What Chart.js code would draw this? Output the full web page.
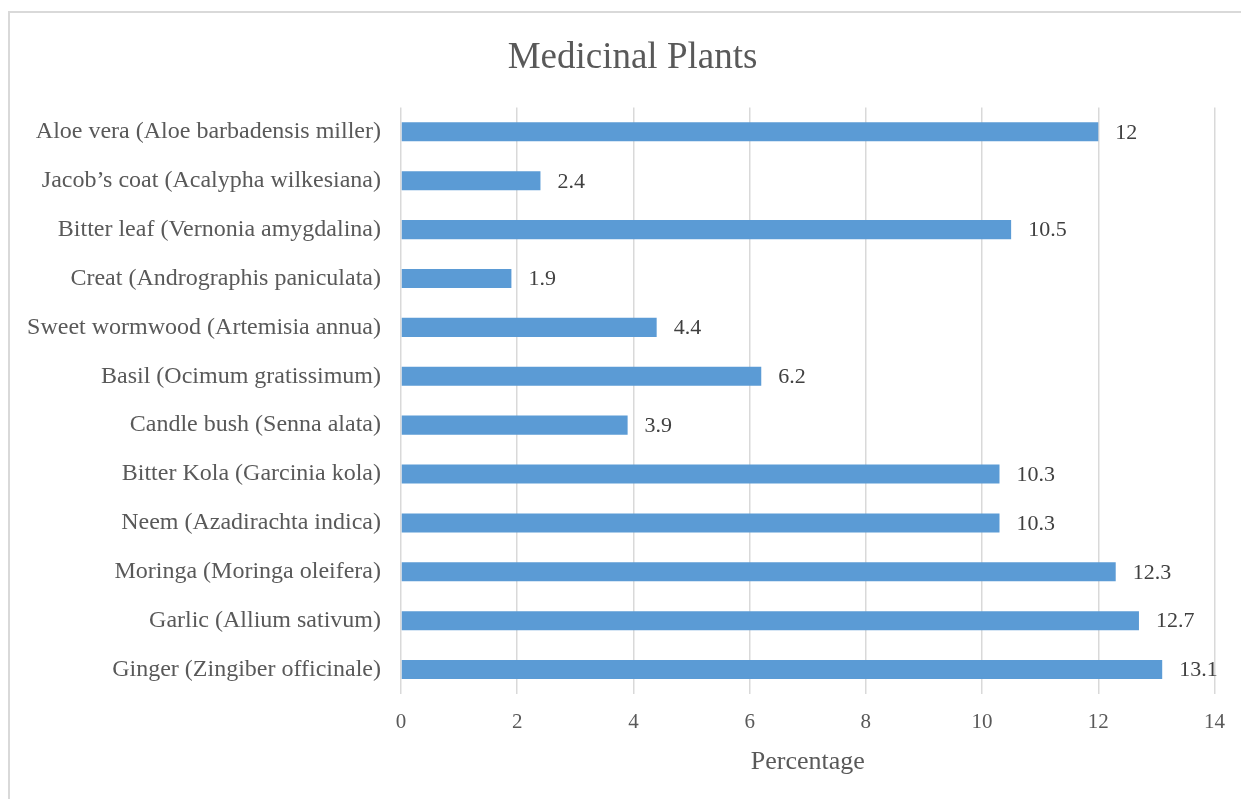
<!DOCTYPE html>
<html>
<head>
<meta charset="utf-8">
<script src="https://cdn.jsdelivr.net/npm/chart.js@4/dist/chart.umd.min.js"></script>
<style>
  html, body { margin: 0; padding: 0; background: #fff; overflow: hidden; }
  #frame { position: absolute; left: 8px; top: 11px; width: 1260px; height: 820px; border-left: 2px solid #d9d9d9; border-top: 2px solid #d9d9d9; }
  #wrap { position: absolute; left: 0; top: 0; width: 1241px; height: 799px; }
</style>
</head>
<body>
<div id="frame"></div>
<div id="wrap"><canvas id="chart"></canvas></div>
<script>
const plantNames = [
  'Aloe vera (Aloe barbadensis miller)',
  'Jacob\u2019s coat (Acalypha wilkesiana)',
  'Bitter leaf (Vernonia amygdalina)',
  'Creat (Andrographis paniculata)',
  'Sweet wormwood (Artemisia annua)',
  'Basil (Ocimum gratissimum)',
  'Candle bush (Senna alata)',
  'Bitter Kola (Garcinia kola)',
  'Neem (Azadirachta indica)',
  'Moringa (Moringa oleifera)',
  'Garlic (Allium sativum)',
  'Ginger (Zingiber officinale)',
];
const percentValues = [12, 2.4, 10.5, 1.9, 4.4, 6.2, 3.9, 10.3, 10.3, 12.3, 12.7, 13.1];

const serif = '"Liberation Serif", "Times New Roman", serif';

// draws the value next to the end of each bar
const valueLabels = {
  id: 'valueLabels',
  afterDatasetsDraw(chart) {
    const ctx = chart.ctx;
    const meta = chart.getDatasetMeta(0);
    ctx.save();
    ctx.font = `22px ${serif}`;
    ctx.fillStyle = '#404040';
    ctx.textAlign = 'left';
    ctx.textBaseline = 'middle';
    meta.data.forEach((bar, i) => {
      ctx.fillText(String(percentValues[i]), bar.x + 17, bar.y + 1);
    });
    ctx.restore();
  },
};

// nudge the title a bit to the right, like the original
const titleShift = {
  id: 'titleShift',
  afterLayout(chart) {
    if (chart.titleBlock) {
      chart.titleBlock.left += 20;
      chart.titleBlock.right += 20;
    }
  },
};

new Chart(document.getElementById('chart'), {
  type: 'bar',
  data: {
    labels: plantNames,
    datasets: [{ data: percentValues, backgroundColor: '#5b9bd5', borderWidth: 0, barPercentage: 0.39, categoryPercentage: 1 }],
  },
  options: {
    indexAxis: 'y',
    responsive: true,
    maintainAspectRatio: false,
    animation: false,
    layout: { padding: { left: 9, right: 25, bottom: 21 } },
    plugins: {
      legend: { display: false },
      tooltip: { enabled: false },
      title: {
        display: true,
        text: 'Medicinal Plants',
        color: '#595959',
        font: { family: serif, size: 37, weight: 'normal' },
        padding: { top: 36, bottom: 27 },
      },
    },
    scales: {
      x: {
        min: 0,
        max: 14,
        ticks: { stepSize: 2, color: '#595959', font: { family: serif, size: 21 }, padding: 16 },
        grid: { color: '#d9d9d9', lineWidth: 1.5, drawTicks: false },
        border: { display: false },
        title: { display: true, text: 'Percentage', color: '#595959', font: { family: serif, size: 26 }, padding: { top: 0, bottom: 0 } },
        afterFit(scale) { scale.height = 84; },
      },
      y: {
        ticks: { color: '#595959', font: { family: serif, size: 24 }, padding: 20 },
        grid: { display: false, drawTicks: false },
        border: { display: false },
        afterFit(scale) { scale.width = 392; },
      },
    },
  },
  plugins: [valueLabels, titleShift],
});
</script>
</body>
</html>
